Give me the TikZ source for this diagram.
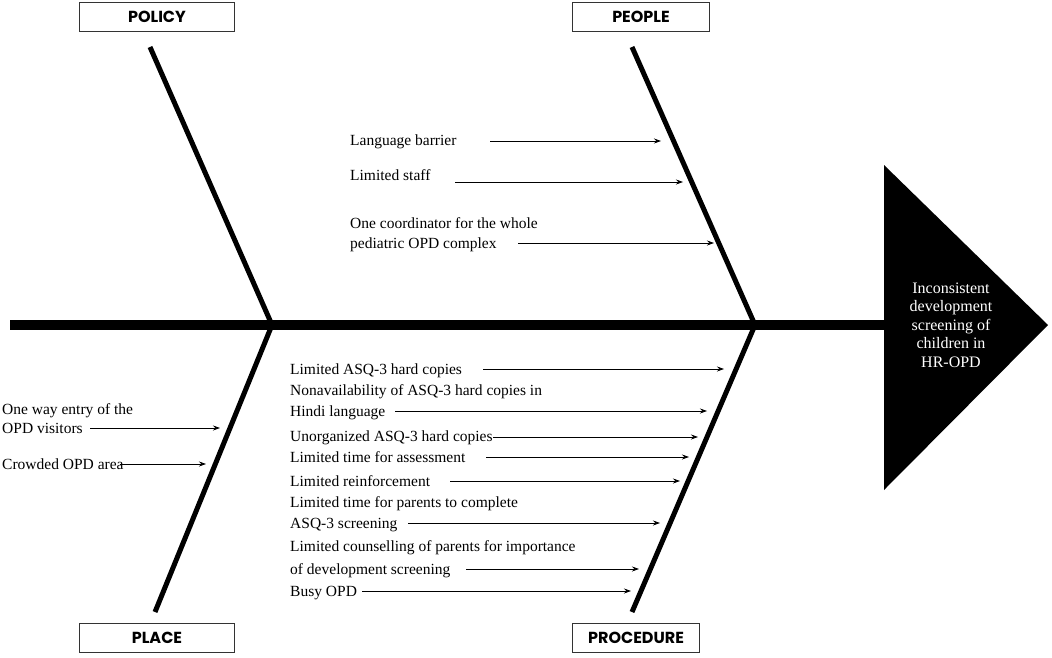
\documentclass[tikz,border=0pt]{standalone}
\usepackage{fontspec}
\setmainfont{Liberation Serif}
\newfontfamily\labfont{Poppins}
\usetikzlibrary{arrows.meta}
\begin{document}
\begin{tikzpicture}[x=1pt,y=-1pt,
  cat/.style={draw=black!80,line width=0.9pt,minimum width=155pt,minimum height=29pt,inner sep=0pt,font=\labfont\bfseries\fontsize{16}{18}\selectfont},
  cause/.style={anchor=base west,inner sep=0pt,font=\fontsize{15.5}{17}\selectfont},
  arr/.style={line width=0.8pt,-{Stealth[length=7pt,width=5pt]}},
  bone/.style={line width=5pt}]
\useasboundingbox (0,0) rectangle (1052,658);
% spine and head
\coordinate (s0) at (10,325); \coordinate (s1) at (886,325);
\draw[line width=10pt] (s0) -- (s1);
\fill (884,165) -- (1048,325) -- (884,490) -- cycle;
\node[text=white,align=center,font=\fontsize{16}{18.5}\selectfont] (eff) at (951,325) {Inconsistent\\development\\screening of\\children in\\HR-OPD};
% bones
\coordinate (j1) at (272,325); \coordinate (j2) at (755,325);
\coordinate (pt) at (150,47); \coordinate (pb) at (155,612);
\coordinate (qt) at (632,47); \coordinate (qb) at (632,612);
\draw[bone] (pt) -- (j1) -- (pb);
\draw[bone] (qt) -- (j2) -- (qb);
% category boxes
\node[cat] (policy) at (157,17) {POLICY};
\node[cat,minimum width=137pt] (people) at (641,17) {PEOPLE};
\node[cat] (place) at (157,638) {PLACE};
\node[cat,minimum width=127pt] (proc) at (636,638) {PROCEDURE};
% people
\node[cause] (a1) at (350,146) {Language barrier};
\coordinate (d1) at (490,141); \coordinate (e1) at (661,141); \draw[arr] (d1) -- (e1);
\node[cause] (a2) at (350,180) {Limited staff};
\coordinate (d2) at (455,182); \coordinate (e2) at (683,182); \draw[arr] (d2) -- (e2);
\node[cause] (a3) at (350,228) {One coordinator for the whole};
\node[cause] (a3b) at (350,248) {pediatric OPD complex};
\coordinate (d3) at (518,243); \coordinate (e3) at (714,243); \draw[arr] (d3) -- (e3);
% procedure
\node[cause] (b1) at (290,374) {Limited ASQ-3 hard copies};
\coordinate (h1) at (483,369); \coordinate (f1) at (724,369); \draw[arr] (h1) -- (f1);
\node[cause] (b2) at (290,395) {Nonavailability of ASQ-3 hard copies in};
\node[cause] (b2b) at (290,416) {Hindi language};
\coordinate (h2) at (395,411); \coordinate (f2) at (707,411); \draw[arr] (h2) -- (f2);
\node[cause] (b3) at (290,441) {Unorganized ASQ-3 hard copies};
\coordinate (h3) at (493,437); \coordinate (f3) at (698,437); \draw[arr] (h3) -- (f3);
\node[cause] (b4) at (290,462) {Limited time for assessment};
\coordinate (h4) at (486,457); \coordinate (f4) at (689,457); \draw[arr] (h4) -- (f4);
\node[cause] (b5) at (290,486) {Limited reinforcement};
\coordinate (h5) at (450,481); \coordinate (f5) at (680,481); \draw[arr] (h5) -- (f5);
\node[cause] (b6) at (290,507) {Limited time for parents to complete};
\node[cause] (b6b) at (290,528) {ASQ-3 screening};
\coordinate (h6) at (408,523); \coordinate (f6) at (660,523); \draw[arr] (h6) -- (f6);
\node[cause] (b7) at (290,551) {Limited counselling of parents for importance};
\node[cause] (b7b) at (290,574) {of development screening};
\coordinate (h7) at (466,569); \coordinate (f7) at (639,569); \draw[arr] (h7) -- (f7);
\node[cause] (b8) at (290,596) {Busy OPD};
\coordinate (h8) at (362,591); \coordinate (f8) at (631,591); \draw[arr] (h8) -- (f8);
% place
\node[cause] (c1) at (2,414) {One way entry of the};
\node[cause] (c1b) at (2,433) {OPD visitors};
\coordinate (k1) at (90,428); \coordinate (g1) at (220,428); \draw[arr] (k1) -- (g1);
\node[cause] (c2) at (2,469) {Crowded OPD area};
\coordinate (k2) at (120,464); \coordinate (g2) at (206,464); \draw[arr] (k2) -- (g2);
\end{tikzpicture}
\end{document}
